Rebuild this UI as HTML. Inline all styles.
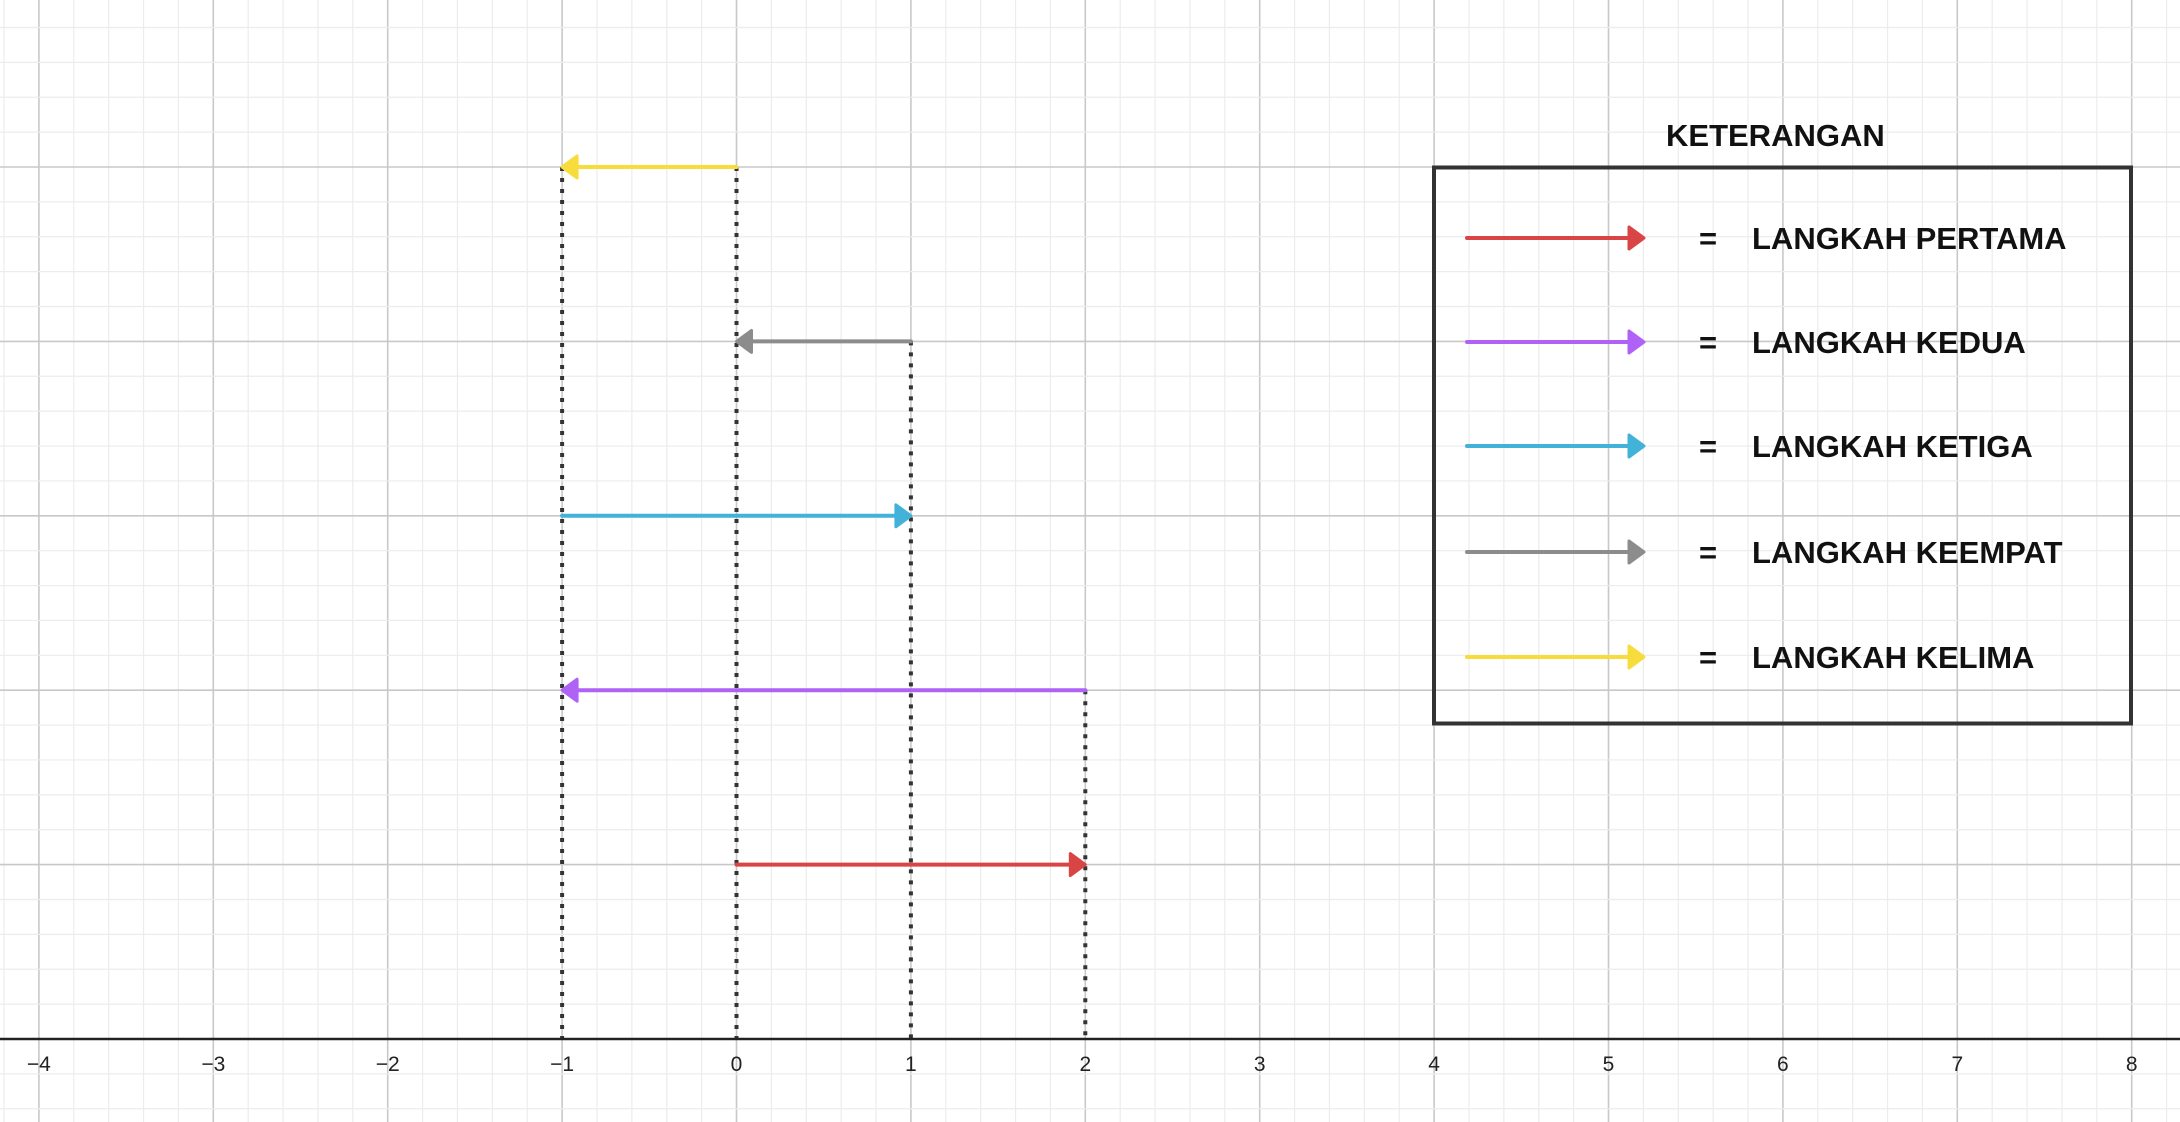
<!DOCTYPE html>
<html><head><meta charset="utf-8"><style>
html,body{margin:0;padding:0;background:#fff;overflow:hidden}
svg{display:block}
text{font-family:"Liberation Sans",Arial,sans-serif}
</style></head><body>
<svg id="chart" width="2180" height="1122" viewBox="0 0 2180 1122" xmlns="http://www.w3.org/2000/svg">
<g id="grid"></g>
<g id="guides"></g>
<g id="arrows"></g>
<g id="axis"></g>
<g id="legend"></g>
</svg>
<script>
const xTicks = [-4,-3,-2,-1,0,1,2,3,4,5,6,7,8];
const stepLabels = ["LANGKAH PERTAMA","LANGKAH KEDUA","LANGKAH KETIGA","LANGKAH KEEMPAT","LANGKAH KELIMA"];
const stepColors = ["#d94545","#b062f7","#43b2d9","#8c8c8c","#f7dd3c"];
const stepStart = [0,2,-1,1,0];
const stepEnd = [2,-1,1,0,-1];
const stepLevel = [1,2,3,4,5];
const guideX = [-1,0,1,2];
const guideTop = [5,5,4,2];

const X0 = 736.5, UNIT = 174.4, Y0 = 1039;
const sx = v => X0 + v*UNIT;
const sy = v => Y0 - v*UNIT;
const NS = "http://www.w3.org/2000/svg";
function mk(tag, attrs, parent){const e=document.createElementNS(NS,tag);for(const k in attrs)e.setAttribute(k,attrs[k]);parent.appendChild(e);return e;}

const grid = document.getElementById('grid');
for(let i=-25;i<=50;i++){
  const v=i/5, x=sx(v); if(x<-2||x>2182) continue;
  const major = i%5===0;
  const l=mk('line',{x1:x,y1:0,x2:x,y2:1122,stroke:major?'#c8c8c8':'#ececec','stroke-width':major?1.6:1.2},grid);
  
  
}
for(let i=-3;i<=35;i++){
  const v=i/5, y=sy(v); if(y<-2||y>1124) continue;
  const major = i%5===0;
  const l=mk('line',{x1:0,y1:y,x2:2180,y2:y,stroke:major?'#c8c8c8':'#ececec','stroke-width':major?1.6:1.2},grid);
  
  
}

const guides=document.getElementById('guides');
guideX.forEach((gx,i)=>{
  const l=mk('line',{x1:sx(gx),y1:sy(guideTop[i]),x2:sx(gx),y2:Y0,stroke:'#333','stroke-width':4,'stroke-dasharray':'4 7'},guides);
  
  
});

function arrow(parent,x1,y,x2,color,w){
  const dir = x2>x1?1:-1;
  const g=mk('g',{},parent);
  mk('line',{x1:x1,y1:y,x2:x2-dir*10,y2:y,stroke:color,'stroke-width':w,'stroke-linecap':'round'},g);
  mk('path',{d:`M${x2} ${y} L${x2-dir*15} ${y-11} L${x2-dir*15} ${y+11} Z`,fill:color,stroke:color,'stroke-width':3,'stroke-linejoin':'round'},g);
  return g;
}
const arrows=document.getElementById('arrows');
stepStart.forEach((s,i)=>{
  const g=arrow(arrows,sx(s),sy(stepLevel[i]),sx(stepEnd[i]),stepColors[i],4);
  
  
});

const axis=document.getElementById('axis');
mk('line',{x1:0,y1:Y0,x2:2180,y2:Y0,stroke:'#222','stroke-width':2.5},axis);
xTicks.forEach(t=>{
  const tx=mk('text',{x:sx(t),y:Y0+32,'text-anchor':'middle','font-size':21,fill:'#222'},axis);
  tx.textContent = t<0 ? '\u2212'+Math.abs(t) : String(t);
  
  
});

const legend=document.getElementById('legend');
const title=mk('text',{x:1666,y:146,'font-size':31,'font-weight':'bold',fill:'#111'},legend);
title.textContent='KETERANGAN';


const box=mk('rect',{x:1434,y:167.5,width:697,height:556,fill:'none',stroke:'#333','stroke-width':4},legend);


const rowY=[238,342,446,552,657];
stepLabels.forEach((lab,i)=>{
  const g=arrow(legend,1467,rowY[i],1644,stepColors[i],4);
  
  
  const eq=mk('text',{x:1708,y:rowY[i]+11,'text-anchor':'middle','font-size':31,'font-weight':'bold',fill:'#111'},legend);
  eq.textContent='=';
  
  
  const t=mk('text',{x:1752,y:rowY[i]+11,'font-size':31,'font-weight':'bold',fill:'#111'},legend);
  t.textContent=lab;
  
  
});
</script>
</body></html>
